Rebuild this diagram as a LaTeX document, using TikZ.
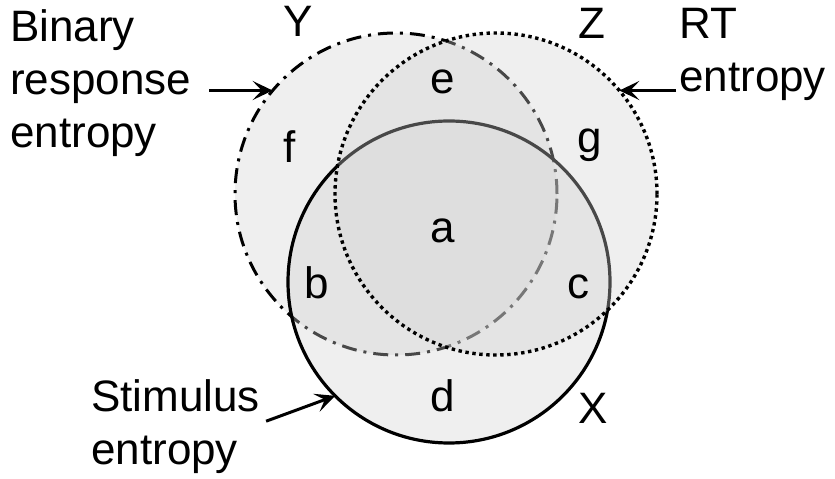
\documentclass[tikz,border=0pt]{standalone}
\usepackage{fontspec}
\setmainfont{Liberation Sans}
\usetikzlibrary{arrows.meta}
\definecolor{shade}{gray}{0.82}
\definecolor{ink}{gray}{0}

\begin{document}
\begin{tikzpicture}[x=1pt,y=1pt,
set/.style={circle,minimum size=322pt,inner sep=0pt,outer sep=0pt,fill=shade,fill opacity=0.35},
yset/.style={set,draw=ink,line width=3pt,dash pattern=on 15pt off 7pt on 3pt off 7pt},
zset/.style={set,draw=ink,line width=3.4pt,dash pattern=on 3.4pt off 3.6pt},
xset/.style={set,draw=ink,line width=3.2pt},
big/.style={font=\fontsize{44}{53}\selectfont,inner sep=0pt},
tag/.style={big,anchor=base},
side/.style={big,align=left,anchor=north west},
arr/.style={-{Stealth[length=20pt,width=19pt,inset=9pt]},line width=3pt}
]
\useasboundingbox (0,0) rectangle (835,479);
\node[yset] (ycirc) at (396,285) {};
\node[xset] (xcirc) at (449,197) {};
\node[zset] (zcirc) at (496,285) {};
% set names
\node[tag] (ylbl) at (298,442) {Y};
\node[tag] (zlbl) at (592,440) {Z};
\node[tag] (xlbl) at (593,55) {X};
% regions
\node[tag] (ra) at (443,236) {a};
\node[tag] (rb) at (317,180) {b};
\node[tag] (rc) at (578,180) {c};
\node[tag] (rd) at (443,67) {d};
\node[tag] (re) at (443,385) {e};
\node[tag] (rf) at (290,316) {f};
\node[tag] (rg) at (590,326) {g};
% what each circle stands for
\node[side] (binlbl) at (10,470) {Binary\\response\\entropy};
\node[side] (rtlbl) at (679,471) {RT\\entropy};
\node[side] (stimlbl) at (91,100) {Stimulus\\entropy};
\draw[arr] (binlbl.east |- ycirc.140) ++(18,0) -- (ycirc.140);
\draw[arr] (rtlbl.west |- zcirc.40) ++(-3,0) -- (zcirc.40);
\draw[arr] (stimlbl.east) ++(6,5) -- (xcirc.225);
\end{tikzpicture}
\end{document}
